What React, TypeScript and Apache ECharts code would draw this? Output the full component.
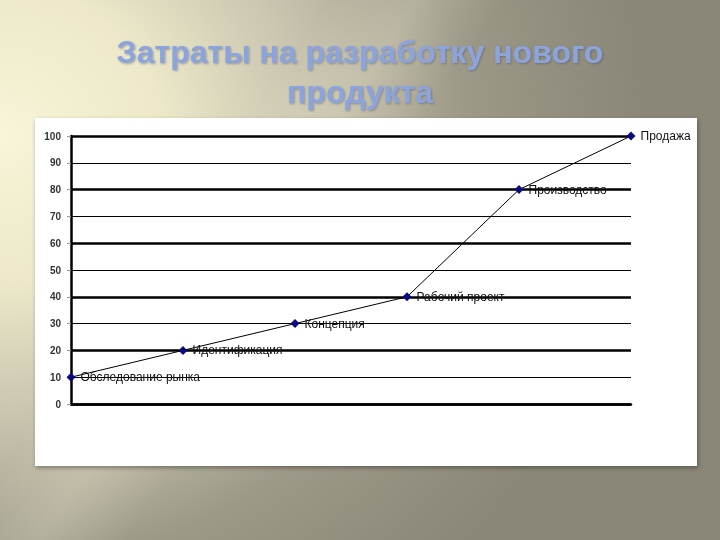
import React, { useEffect, useRef } from "react";
import * as echarts from "echarts";

const stages = ["Обследование рынка", "Идентификация", "Концепция", "Рабочий проект", "Производство", "Продажа"];
const costs = [10, 20, 30, 40, 80, 100];
const titleLines = ["Затраты на разработку нового", "продукта"];

export default function App() {
  const ref = useRef<HTMLDivElement>(null);
  useEffect(() => {
    if (!ref.current) return;
    const chart = echarts.init(ref.current, null, { renderer: "svg" });
    const titleStyle = {
      fontFamily: "Liberation Sans, Arial",
      fontWeight: "bold",
      fontSize: 32,
      fill: "#8ba4dc",
      textShadowColor: "rgba(70,70,90,0.45)",
      textShadowBlur: 2,
      textShadowOffsetX: 1,
      textShadowOffsetY: 1,
    };
    chart.setOption({
      animation: false,
      backgroundColor: "transparent",
      graphic: [
        {
          type: "rect",
          shape: { x: 35, y: 118, width: 662, height: 348 },
          style: { fill: "#ffffff", shadowBlur: 4, shadowColor: "rgba(0,0,0,0.35)", shadowOffsetX: 1, shadowOffsetY: 2 },
          z: -10,
        },
        ...titleLines.map((t, i) => ({
          type: "text",
          left: "center",
          top: 36 + i * 40,
          style: { ...titleStyle, text: t },
        })),
      ],
      grid: { left: 71, right: 89, top: 136, bottom: 136, containLabel: false },
      xAxis: {
        type: "category",
        data: stages,
        boundaryGap: false,
        axisLine: { lineStyle: { color: "#000", width: 2.5 } },
        axisTick: { show: false },
        axisLabel: { show: false },
      },
      yAxis: [
        {
          type: "value",
          min: 0,
          max: 100,
          interval: 10,
          axisLine: { show: true, lineStyle: { color: "#000", width: 2.5 } },
          axisTick: { show: true, length: 4, lineStyle: { color: "#999" } },
          axisLabel: { fontSize: 10, fontWeight: "bold", color: "#333", fontFamily: "Liberation Sans, Arial", margin: 10 },
          splitLine: { lineStyle: { color: "#000", width: 1.2 } },
        },
        {
          type: "value",
          min: 0,
          max: 100,
          interval: 20,
          position: "left",
          axisLine: { show: false },
          axisTick: { show: false },
          axisLabel: { show: false },
          splitLine: { lineStyle: { color: "#000", width: 2.5 } },
        },
      ],
      series: [
        {
          type: "line",
          data: costs,
          yAxisIndex: 0,
          symbol: "diamond",
          symbolSize: 9,
          itemStyle: { color: "#0a0a80" },
          lineStyle: { color: "#000", width: 1 },
          z: 5,
          label: {
            show: true,
            position: "right",
            distance: 5,
            formatter: (p: any) => stages[p.dataIndex],
            fontSize: 12,
            color: "#111",
            fontFamily: "Liberation Sans, Arial",
          },
        },
      ],
    });
    return () => chart.dispose();
  }, []);
  return (
    <div
      style={{
        position: "fixed",
        left: 0,
        top: 0,
        width: 720,
        height: 540,
        background:
          "linear-gradient(125deg, rgba(255,255,255,0) 30%, rgba(255,252,230,0.18) 38%, rgba(255,255,255,0) 46%), radial-gradient(ellipse 90% 110% at 0% 25%, #f8f5d8 0%, #ece8c9 25%, #c4c0ab 50%, #9d9988 72%, #8a8678 100%)",
      }}
    >
      <div ref={ref} style={{ width: 720, height: 540 }} />
    </div>
  );
}
